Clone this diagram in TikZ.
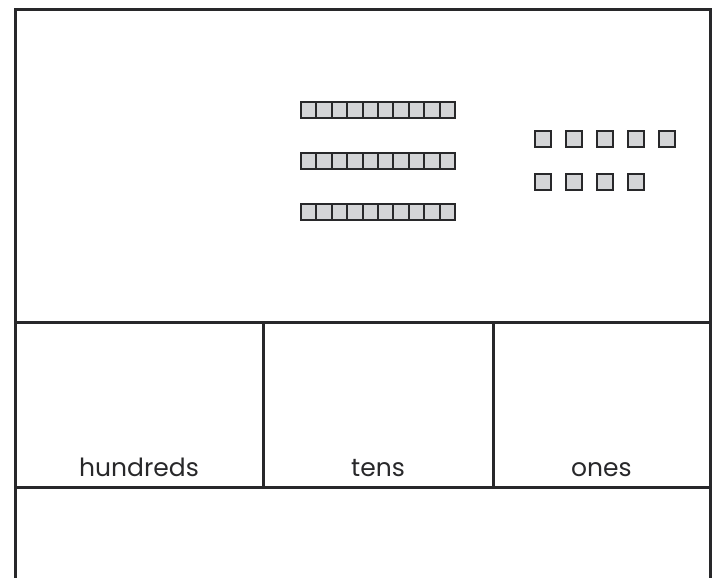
\documentclass[tikz,border=0pt]{standalone}
\usepackage{fontspec}
\setmainfont{Poppins}
\usetikzlibrary{positioning}
\definecolor{myink}{RGB}{40,40,42}
\definecolor{mycube}{RGB}{212,213,215}
\tikzset{
  frameline/.style={line width=3pt, color=myink, line join=miter},
  tencell/.style={rectangle, draw=myink, fill=mycube, line width=2pt,
    minimum width=15.42pt, minimum height=16pt, inner sep=0pt},
  unitcube/.style={rectangle, draw=myink, fill=mycube, line width=2.2pt,
    minimum size=16pt, inner sep=0pt},
  colname/.style={font=\fontsize{25}{30}\selectfont, text=myink, anchor=base}
}
\begin{document}
\begin{tikzpicture}[x=1pt, y=-1pt]
  \useasboundingbox (0,0) rectangle (715,578);

  % Chart frame
  \draw[frameline] (15,578) -- (15,10) -- (710,10) -- (710,578);
  \draw[frameline] (15,322) -- (710,322);
  \draw[frameline] (15,487) -- (710,487);
  \draw[frameline] (263,322) -- (263,487);
  \draw[frameline] (493.5,322) -- (493.5,487);

  % Tens rods
  \foreach \r/\y in {1/109.7, 2/161.2, 3/212.2}
    \foreach \i in {1,...,10}
      \node[tencell] (ten\r-\i) at ({308.6+15.42*(\i-1)}, \y) {};

  % Ones cubes
  \foreach \i in {1,...,5}
    \node[unitcube] (onea\i) at ({543+31*(\i-1)}, 139) {};
  \foreach \i in {1,...,4}
    \node[unitcube] (oneb\i) at ({543+31*(\i-1)}, 182) {};

  % Column names
  \node[colname] (hundreds) at (139,476) {hundreds};
  \node[colname] (tens) at (378,476) {tens};
  \node[colname] (ones) at (601.5,476) {ones};

\end{tikzpicture}
\end{document}
